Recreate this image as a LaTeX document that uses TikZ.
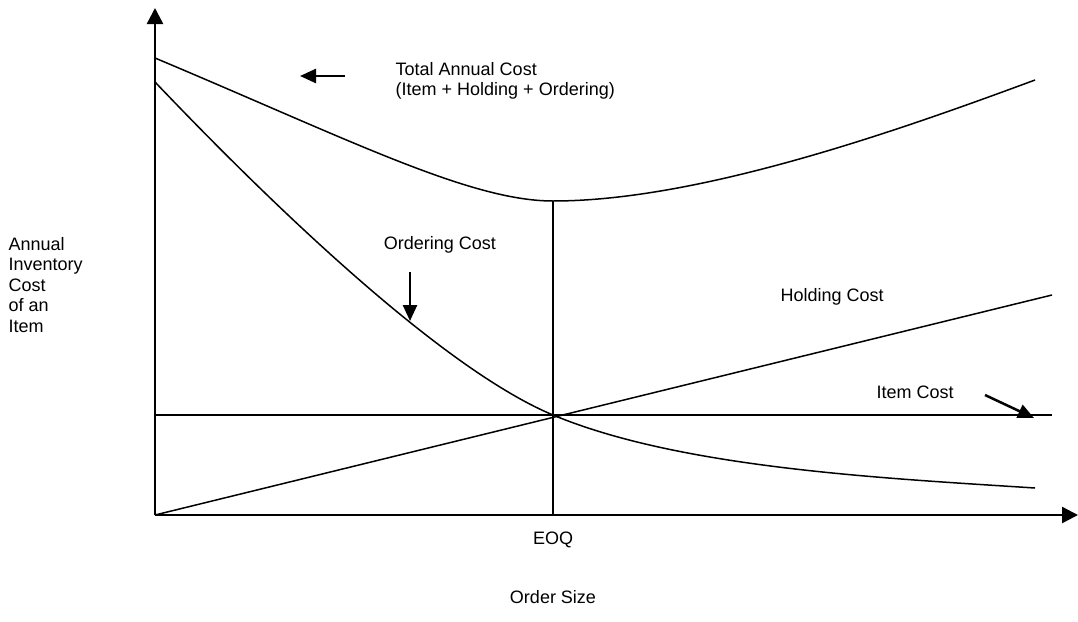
\documentclass[tikz,border=0pt]{standalone}
\usepackage{fontspec}
\setmainfont{Liberation Sans}
\usetikzlibrary{arrows.meta}
\begin{document}
\begin{tikzpicture}[x=1pt,y=-1pt,line width=1.4pt,
  lbl/.style={font=\fontsize{18}{20.5}\selectfont,inner sep=0pt},
  axis/.style={line width=2.4pt,-{Triangle[length=16pt,width=16pt]}},
  pointer/.style={line width=2.5pt,-{Triangle[length=16pt,width=14pt]}},
  curve/.style={line width=1.5pt}]
\useasboundingbox (0,0) rectangle (1078,621);
% key points
\coordinate (O) at (155,515);
\coordinate (ytip) at (155,8);
\coordinate (xtip) at (1078,515);
\coordinate (E) at (553,415);
\coordinate (Etop) at (553,201);
\coordinate (Ebot) at (553,515);
\coordinate (Istart) at (155,415);
\coordinate (Iend) at (1052,415);
\coordinate (Hend) at (1052,295);
\coordinate (Tstart) at (155,58);
\coordinate (Tend) at (1035,80);
\coordinate (Ostart) at (155,82);
\coordinate (Oend) at (1035,488);
% axes
\draw[axis] (O) -- (ytip);
\draw[axis] (O) -- (xtip);
% cost lines
\draw[curve] (Istart) -- (Iend);
\draw[curve] (O) -- (Hend);
\draw[curve] (Ebot) -- (Etop);
\draw[curve] (Tstart) .. controls (350,140) and (470,201) .. (Etop)
  .. controls (700,201) and (900,130) .. (Tend);
\draw[curve] (Ostart) .. controls (275,208) and (443,369) .. (E)
  .. controls (680,468) and (880,478) .. (Oend);
% labels
\node[lbl,anchor=west,align=left] (total) at (395,81) {Total Annual Cost\\(Item + Holding + Ordering)};
\node[lbl] (ordering) at (440,245) {Ordering Cost};
\node[lbl,anchor=west] (holding) at (780,297) {Holding Cost};
\node[lbl,anchor=west] (item) at (876,392) {Item Cost};
\node[lbl,anchor=west,align=left] (ylab) at (8,285) {Annual\\Inventory\\Cost\\of an\\Item};
\node[lbl] (eoq) at (553,540) {EOQ};
\node[lbl] (xlab) at (553,597) {Order Size};
% pointers
\coordinate (tp1) at (345,76);
\coordinate (tp2) at (300,76);
\draw[pointer] (tp1) -- (tp2);
\coordinate (op1) at (410,272);
\coordinate (op2) at (410,321);
\draw[pointer] (op1) -- (op2);
\coordinate (ip1) at (985,395);
\coordinate (ip2) at (1034,418);
\draw[pointer] (ip1) -- (ip2);
\end{tikzpicture}
\end{document}
